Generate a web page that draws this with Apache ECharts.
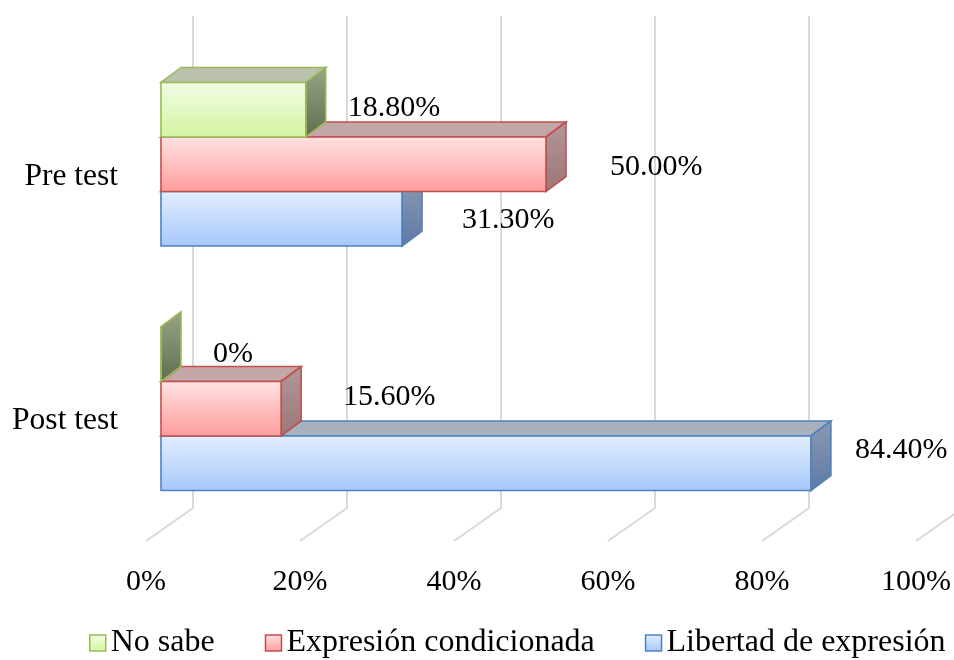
<!DOCTYPE html>
<html>
<head>
<meta charset="utf-8">
<script src="https://cdn.jsdelivr.net/npm/echarts@6/dist/echarts.min.js"></script>
<style>
  html, body { margin: 0; padding: 0; background: #fff; }
  #chart { width: 954px; height: 660px; }
</style>
</head>
<body>
<div id="chart"></div>
<script>
const categories = ['Pre test', 'Post test'];
const seriesNames = ['No sabe', 'Expresión condicionada', 'Libertad de expresión'];
const noSabe = [18.8, 0];
const condicionada = [50.0, 15.6];
const libertad = [31.3, 84.4];
const xTicks = [0, 20, 40, 60, 80, 100];

const FONT = '"Liberation Serif", "Times New Roman", serif';
const grad = (a, b) => new echarts.graphic.LinearGradient(0, 0, 0, 1, [
  { offset: 0, color: a }, { offset: 1, color: b }
]);

// colours per series: front face, top face, side face, border
const looks = [
  { front: ['#f2fde6', '#d3f4a0'], top: '#b9c2ad', side: ['#9aa487', '#5f6e4e'], border: '#9bbb59' },
  { front: ['#ffe2e2', '#ff9c9c'], top: '#c2a6a8', side: ['#b39698', '#9b7779'], border: '#c0504d' },
  { front: ['#e3eeff', '#a5c7fa'], top: '#a9b1bf', side: ['#8a9ab2', '#5f79a6'], border: '#4f81bd' }
];
// hand placed data labels (px from bar side / bar middle), per series then category
const labelShift = [
  [[22, -2], [32, 0]],
  [[44, 3], [42, -12]],
  [[40, 1], [24, -13]]
];

function fmt(v) {
  return v === 0 ? '0%' : v.toFixed(2) + '%';
}

function barRenderer(k) {
  const lk = looks[k];
  return function (params, api) {
    const v = api.value(0), c = api.value(1);
    const x0 = api.coord([0, c])[0];
    const p = api.coord([v, c]);
    const h = api.size([0, 1])[1] * 0.223;
    const y = p[1] - 1.5 * h + k * h;
    const x1 = p[0];
    const dx = 20, dy = -15;
    const sh = labelShift[k][c];
    const line = { stroke: lk.border, lineWidth: 1.6 };
    return {
      type: 'group',
      children: [
        { type: 'polygon', shape: { points: [[x0, y], [x0 + dx, y + dy], [x1 + dx, y + dy], [x1, y]] },
          style: Object.assign({ fill: lk.top }, line) },
        { type: 'polygon', shape: { points: [[x1, y], [x1 + dx, y + dy], [x1 + dx, y + h + dy], [x1, y + h]] },
          style: Object.assign({ fill: grad(lk.side[0], lk.side[1]) }, line) },
        { type: 'rect', shape: { x: x0, y: y, width: x1 - x0, height: h },
          style: Object.assign({ fill: grad(lk.front[0], lk.front[1]) }, line) },
        { type: 'text', style: { text: fmt(v), x: x1 + dx + sh[0], y: y + h / 2 + sh[1], verticalAlign: 'middle',
          fontSize: 30, fontFamily: FONT, fill: '#000' } }
      ]
    };
  };
}

// back wall + floor lines of the 3D frame
function frameRenderer(params, api) {
  const cs = params.coordSys;
  const x = api.coord([api.value(0), 0])[0];
  const bottom = cs.y + cs.height;
  return {
    type: 'polyline',
    silent: true,
    shape: { points: [[x + 32, cs.y - 26], [x + 32, bottom - 23], [x - 15, bottom + 10]] },
    style: { stroke: '#d9d9d9', lineWidth: 2, fill: null }
  };
}

const values = [noSabe, condicionada, libertad];
const toData = arr => arr.map((v, i) => [v, i]);

const option = {
  animation: false,
  textStyle: { fontFamily: FONT },
  grid: { left: 161, right: 23, top: 42, bottom: 129 },
  xAxis: {
    type: 'value', min: 0, max: 100, interval: 20,
    axisLine: { show: false }, axisTick: { show: false }, splitLine: { show: false },
    axisLabel: { formatter: '{value}%', fontSize: 30, color: '#000', fontFamily: FONT,
      margin: 36, padding: [0, 30, 0, 0] }
  },
  yAxis: {
    type: 'category', inverse: true, data: categories,
    axisLine: { show: false }, axisTick: { show: false },
    axisLabel: { fontSize: 31.5, color: '#000', fontFamily: FONT, margin: 43,
      verticalAlign: 'top', lineHeight: 24 }
  },
  legend: {
    left: 84, top: 622, itemWidth: 16, itemHeight: 16, itemGap: 50,
    textStyle: { fontSize: 32, color: '#000', fontFamily: FONT },
    data: seriesNames.map((n, k) => ({
      name: n, icon: 'rect',
      itemStyle: { color: grad(looks[k].front[0], looks[k].front[1]), borderColor: looks[k].border, borderWidth: 1.5 }
    }))
  },
  series: [
    { type: 'custom', name: 'frame', silent: true, z: 1, renderItem: frameRenderer,
      data: xTicks.map(v => [v, 0]), encode: { x: 0, y: 1 } },
    // drawn bottom bar first so upper bars cover the top faces below them
    ...[2, 1, 0].map(k => ({
      type: 'custom', name: seriesNames[k], z: 5 - k,
      itemStyle: { color: looks[k].front[1] },
      renderItem: barRenderer(k),
      data: toData(values[k]), encode: { x: 0, y: 1 }
    }))
  ]
};

const chart = echarts.init(document.getElementById('chart'));
chart.setOption(option);
</script>
</body>
</html>
